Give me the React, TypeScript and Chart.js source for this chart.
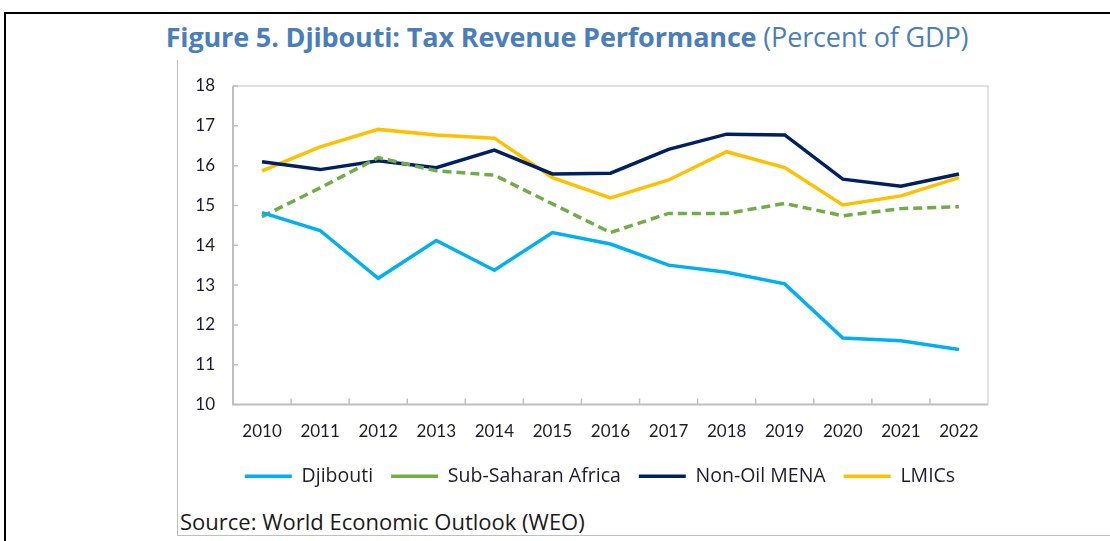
import React, { useEffect, useRef } from 'react';
import { Chart, registerables } from 'chart.js';

Chart.register(...registerables);

const years = ['2010', '2011', '2012', '2013', '2014', '2015', '2016', '2017', '2018', '2019', '2020', '2021', '2022'];
const djibouti = [14.82, 14.37, 13.17, 14.12, 13.37, 14.32, 14.03, 13.5, 13.32, 13.03, 11.67, 11.6, 11.38];
const subSaharan = [14.72, 15.44, 16.2, 15.87, 15.76, 15.04, 14.32, 14.8, 14.8, 15.05, 14.74, 14.92, 14.97];
const nonOilMena = [16.1, 15.9, 16.12, 15.95, 16.39, 15.79, 15.81, 16.41, 16.79, 16.77, 15.66, 15.48, 15.79];
const lmics = [15.87, 16.47, 16.91, 16.77, 16.69, 15.7, 15.19, 15.64, 16.35, 15.95, 15.01, 15.24, 15.7];
const yMin = 10;
const yMax = 18;

const FONT = 'Lato, "Open Sans", sans-serif';
const FONT2 = '"Open Sans", Lato, sans-serif';

const framePlugin = {
  id: 'frameTicks',
  beforeDatasetsDraw(chart: any) {
    const { ctx, chartArea, scales } = chart;
    const { left, top, right, bottom } = chartArea;
    ctx.save();
    ctx.strokeStyle = '#d9d9d9';
    ctx.lineWidth = 1.5;
    ctx.beginPath();
    ctx.moveTo(left, top);
    ctx.lineTo(right, top);
    ctx.lineTo(right, bottom);
    ctx.stroke();
    ctx.strokeStyle = '#bfbfbf';
    ctx.lineWidth = 2;
    ctx.beginPath();
    ctx.moveTo(left, top);
    ctx.lineTo(left, bottom);
    ctx.lineTo(right, bottom);
    ctx.stroke();
    ctx.lineWidth = 1.5;
    ctx.beginPath();
    const ys = scales.y;
    ys.ticks.forEach((_t: any, i: number) => {
      const y = ys.getPixelForTick(i);
      ctx.moveTo(left, y);
      ctx.lineTo(left + 5, y);
    });
    const xs = scales.x;
    for (let i = 0; i < years.length - 1; i++) {
      const x = (xs.getPixelForValue(i) + xs.getPixelForValue(i + 1)) / 2;
      ctx.moveTo(x, bottom);
      ctx.lineTo(x, bottom - 6);
    }
    ctx.stroke();
    ctx.restore();
  },
};

const legendShiftPlugin = {
  id: 'legendShift',
  afterLayout(chart: any) {
    const lg = chart.legend;
    if (lg) {
      lg.left += 17;
      lg.right += 17;
    }
  },
};

export default function App() {
  const canvasRef = useRef<HTMLCanvasElement>(null);

  useEffect(() => {
    const canvas = canvasRef.current;
    if (!canvas) return;
    const chart = new Chart(canvas, {
      type: 'line',
      data: {
        labels: years,
        datasets: [
          {
            label: 'Djibouti',
            data: djibouti,
            borderColor: '#00b0f0',
            backgroundColor: '#00b0f0',
            borderWidth: 3.5,
            pointRadius: 0,
            tension: 0,
          },
          {
            label: 'Sub-Saharan Africa',
            data: subSaharan,
            borderColor: '#70ad47',
            backgroundColor: '#70ad47',
            borderWidth: 3.5,
            borderDash: [9, 5],
            pointRadius: 0,
            tension: 0,
          },
          {
            label: 'Non-Oil MENA',
            data: nonOilMena,
            borderColor: '#002060',
            backgroundColor: '#002060',
            borderWidth: 3.5,
            pointRadius: 0,
            tension: 0,
          },
          {
            label: 'LMICs',
            data: lmics,
            borderColor: '#ffc000',
            backgroundColor: '#ffc000',
            borderWidth: 3.5,
            pointRadius: 0,
            tension: 0,
          },
        ],
      },
      options: {
        animation: false,
        responsive: false,
        maintainAspectRatio: false,
        layout: { padding: { left: 0, right: 122, top: 24, bottom: 0 } },
        scales: {
          x: {
            offset: true,
            grid: { display: false },
            border: { display: false },
            ticks: {
              color: '#1f1a2e',
              font: { family: FONT, size: 17 },
              padding: 9,
              maxRotation: 0,
            },
            afterFit: (s: any) => {
              s.height = 44;
            },
          },
          y: {
            min: yMin,
            max: yMax,
            grid: { display: false },
            border: { display: false },
            ticks: {
              stepSize: 1,
              color: '#1f1a2e',
              font: { family: FONT, size: 17 },
              padding: 10,
            },
            afterFit: (s: any) => {
              s.width = 55;
            },
          },
        },
        plugins: {
          title: { display: false },
          tooltip: { enabled: false },
          legend: {
            position: 'bottom',
            labels: {
              usePointStyle: true,
              pointStyle: 'line',
              pointStyleWidth: 47,
              boxHeight: 16,
              color: '#1f1a2e',
              font: { family: FONT2, size: 19.5 },
              padding: 18,
            },
          },
        },
      },
      plugins: [framePlugin, legendShiftPlugin],
    });
    return () => chart.destroy();
  }, []);

  return (
    <div style={{ position: 'absolute', left: 0, top: 0, width: 1110, height: 541, background: '#fff', overflow: 'hidden' }}>
      <div style={{ position: 'absolute', left: 4, top: 12, width: 1120, height: 540, borderTop: '2px solid #000', borderLeft: '2px solid #000' }} />
      <div style={{ position: 'absolute', left: 177, top: 60, width: 950, height: 475, borderLeft: '1px solid #bfbfbf', borderBottom: '1px solid #bfbfbf' }} />
      <div
        style={{
          position: 'absolute',
          left: 0,
          width: 1134,
          top: 20,
          textAlign: 'center',
          fontFamily: FONT2,
          fontSize: 27,
          color: '#4a7ebb',
          whiteSpace: 'nowrap',
          lineHeight: '34px',
          letterSpacing: '-0.15px',
        }}
      >
        <span style={{ fontWeight: 700 }}>Figure 5. Djibouti: Tax Revenue Performance</span>
        <span style={{ fontWeight: 400 }}> (Percent of GDP)</span>
      </div>
      <canvas ref={canvasRef} width={932} height={434} style={{ position: 'absolute', left: 178, top: 62, width: 932, height: 434 }} />
      <div
        style={{
          position: 'absolute',
          left: 180,
          top: 507,
          fontFamily: FONT2,
          fontSize: 22,
          color: '#1a1a1a',
          whiteSpace: 'nowrap',
          lineHeight: '28px',
        }}
      >
        Source: World Economic Outlook (WEO)
      </div>
    </div>
  );
}
